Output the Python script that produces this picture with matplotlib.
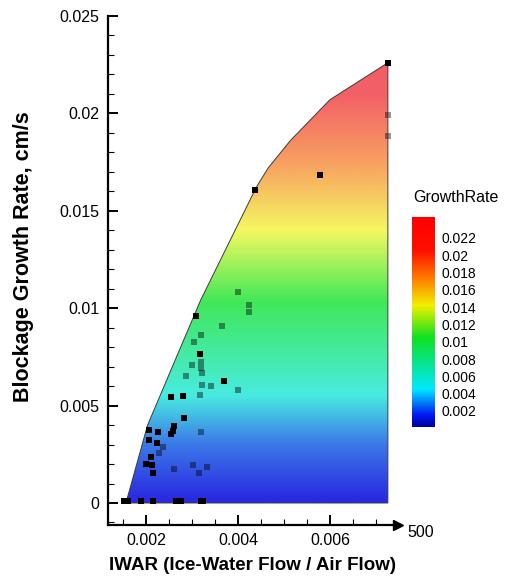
import numpy as np
import matplotlib
matplotlib.use("Agg")
import matplotlib.pyplot as plt
from matplotlib.colors import LinearSegmentedColormap, Normalize
from matplotlib.patches import Polygon
from matplotlib.ticker import MultipleLocator

plt.rcParams['font.family'] = ['Liberation Sans', 'DejaVu Sans']

# outline of the sampled IWAR / growth-rate domain
boundary_iwar = [0.00156, 0.00203, 0.00318, 0.00439, 0.00465, 0.00513, 0.00599, 0.00725, 0.00725]
boundary_rate = [0.0, 0.0040, 0.0104, 0.0162, 0.0172, 0.0186, 0.0207, 0.0226, 0.0]

# measured points in front of the contour surface
front_iwar = [0.00725, 0.00578, 0.00437, 0.00309, 0.00316, 0.00368, 0.00253, 0.00279,
              0.00283, 0.00260, 0.00258, 0.00253, 0.00206, 0.00225, 0.00206, 0.00223,
              0.00210, 0.00199, 0.00212, 0.00214,
              0.00152, 0.00160, 0.00188, 0.00214, 0.00264, 0.00275, 0.00320, 0.00324]
front_rate = [0.0226, 0.01684, 0.01607, 0.0096, 0.00765, 0.00626, 0.00544, 0.00549,
              0.00436, 0.00395, 0.00370, 0.00354, 0.00375, 0.00364, 0.00323, 0.00308,
              0.00236, 0.00200, 0.00195, 0.00154,
              0.0001, 0.0001, 0.0001, 0.0001, 0.0001, 0.0001, 0.0001, 0.0001]

# measured points behind the contour surface
back_iwar = [0.00725, 0.00725, 0.00400, 0.00424, 0.00424, 0.00364, 0.00320, 0.00303,
             0.00320, 0.00320, 0.00299, 0.00322, 0.00286, 0.00322, 0.00340, 0.00400,
             0.00316, 0.00318, 0.00236, 0.00227, 0.00260, 0.00301, 0.00331, 0.00314]
back_rate = [0.0199, 0.01884, 0.01083, 0.01016, 0.00980, 0.00909, 0.00862, 0.00826,
             0.00724, 0.00693, 0.00708, 0.00667, 0.00652, 0.00606, 0.00601, 0.00580,
             0.00554, 0.00364, 0.00287, 0.00257, 0.00175, 0.00195, 0.00185, 0.00154]

legend_levels = [0.022, 0.02, 0.018, 0.016, 0.014, 0.012, 0.01, 0.008, 0.006, 0.004, 0.002]

xlim = (0.00117, 0.00747)
ylim = (-0.00113, 0.025)
norm = Normalize(vmin=0.00015, vmax=0.0244)

def level_cmap(name, stops):
    return LinearSegmentedColormap.from_list(
        name, [(norm(v), c) for v, c in stops])

legend_cmap = level_cmap('legend', [
    (0.00015, '#0000a0'), (0.0015, '#0018f0'), (0.0045, '#00e8ff'),
    (0.0105, '#10e020'), (0.0142, '#f0f000'), (0.0172, '#ff8000'),
    (0.0205, '#ff1000'), (0.0244, '#ff0000')])

fill_cmap = level_cmap('fill', [
    (0.00015, '#2a2ae0'), (0.003, '#3c7ae8'), (0.0055, '#48ece0'),
    (0.0103, '#40e858'), (0.0140, '#f4f860'), (0.0175, '#f8a060'),
    (0.0210, '#f46068'), (0.0244, '#f05a64')])

fig = plt.figure(figsize=(5.08, 5.79), dpi=100)
ax = fig.add_axes([108 / 508, 1 - 525 / 579, 290 / 508, 509 / 579])

# contour surface: vertical gradient clipped to the domain outline
outline = Polygon(np.column_stack([boundary_iwar, boundary_rate]), closed=True,
                  facecolor='none', edgecolor='#3a3a3a', linewidth=0.7, zorder=3)
ax.add_patch(outline)
grad = np.linspace(0, 0.025, 400).reshape(-1, 1)
img = ax.imshow(grad, extent=[xlim[0], xlim[1], 0, 0.025], origin='lower',
                aspect='auto', cmap=fill_cmap, norm=norm, zorder=1,
                interpolation='bilinear')
img.set_clip_path(outline)

ax.scatter(back_iwar, back_rate, marker='s', s=18, color='black', alpha=0.42,
           linewidths=0, zorder=2)
ax.scatter(front_iwar, front_rate, marker='s', s=22, color='black',
           linewidths=0, zorder=4, clip_on=False)

ax.set_xlim(*xlim)
ax.set_ylim(*ylim)

for side in ('top', 'right'):
    ax.spines[side].set_visible(False)
for side in ('left', 'bottom'):
    ax.spines[side].set_linewidth(1.6)

ax.xaxis.set_minor_locator(MultipleLocator(0.0005))
ax.yaxis.set_minor_locator(MultipleLocator(0.001))
ax.set_xticks([0.002, 0.004, 0.006])
ax.set_xticklabels(['0.002', '0.004', '0.006'])
ax.set_yticks([0, 0.005, 0.01, 0.015, 0.02, 0.025])
ax.set_yticklabels(['0', '0.005', '0.01', '0.015', '0.02', '0.025'])
ax.tick_params(which='major', direction='in', length=7, width=1.4, labelsize=11.5, pad=6)
ax.tick_params(which='minor', direction='in', length=4, width=0.8)

# arrow head closing the x axis
ax.plot([xlim[1]], [ylim[0]], marker='>', ms=7, color='black',
        clip_on=False, zorder=5)
ax.text(xlim[1] + 0.0002, ylim[0], '500', fontsize=11.5, ha='left', va='top')

ax.set_xlabel('IWAR (Ice-Water Flow / Air Flow)', fontsize=13.5,
              fontweight='bold', labelpad=6)
ax.set_ylabel('Blockage Growth Rate, cm/s', fontsize=15.5, fontweight='bold')
ax.yaxis.set_label_coords(-0.256, 0.528)

# colour legend
cax = fig.add_axes([412 / 508, 1 - 427 / 579, 23 / 508, 210 / 579])
sm = plt.cm.ScalarMappable(norm=norm, cmap=legend_cmap)
cb = fig.colorbar(sm, cax=cax)
cb.outline.set_visible(False)
cb.set_ticks(legend_levels)
cb.set_ticklabels([f'{v:g}' for v in legend_levels])
cax.tick_params(length=0, labelsize=10, pad=5)
fig.text(456 / 508, 1 - 198 / 579, 'GrowthRate', fontsize=11.5,
         ha='center', va='center')

fig.savefig('out.png', dpi=100, facecolor='white')
